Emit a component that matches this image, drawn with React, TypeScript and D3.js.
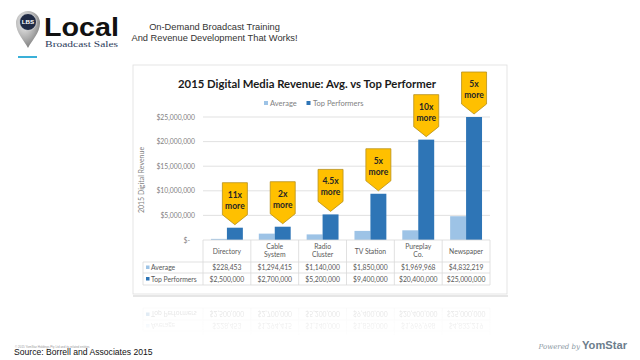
import React from "react";
import * as d3 from "d3";

const categories = ["Directory", "Cable System", "Radio Cluster", "TV Station", "Pureplay Co.", "Newspaper"];
const categoryLines = [["Directory"], ["Cable", "System"], ["Radio", "Cluster"], ["TV Station"], ["Pureplay", "Co."], ["Newspaper"]];
const averageValues = [228453, 1294415, 1140000, 1850000, 1969968, 4832219];
const topValues = [2500000, 2700000, 5200000, 9400000, 20400000, 25000000];
const multipliers = ["11x", "2x", "4.5x", "5x", "10x", "5x"];
const yTicks = [0, 5000000, 10000000, 15000000, 20000000, 25000000];
const seriesNames = ["Average", "Top Performers"];

const AVG_COLOR = "#9dc3e6";
const TOP_COLOR = "#2e75b6";
const GRID = "#d9d9d9";
const FONT = "Lato, 'Open Sans', sans-serif";

const money = (v: number) => (v === 0 ? "$-" : "$" + d3.format(",")(v));

const x0 = d3.scaleBand<string>().domain(categories).range([203, 490]).padding(0);
const x1 = d3.scaleBand<string>().domain(seriesNames).range([0, x0.bandwidth()]).paddingInner(0).paddingOuter(0.5);
const y = d3.scaleLinear().domain([0, 25000000]).range([240, 117]);
const rowTop = 262, rowMid = 273, rowBot = 285, tableLeft = 143;

function Table({ withCategories }: { withCategories: boolean }) {
  return (
    <g>
      <line x1={203} x2={490} y1={240} y2={240} stroke={GRID} strokeWidth={0.8} />
      {[rowTop, rowMid, rowBot].map((yy) => (
        <line key={yy} x1={tableLeft} x2={490} y1={yy} y2={yy} stroke={GRID} strokeWidth={0.8} />
      ))}
      <line x1={tableLeft} x2={tableLeft} y1={rowTop} y2={rowBot} stroke={GRID} strokeWidth={0.8} />
      {categories.map((c) => (
        <line key={c} x1={x0(c) as number} x2={x0(c) as number} y1={withCategories ? 240 : rowTop - 4} y2={rowBot} stroke={GRID} strokeWidth={0.8} />
      ))}
      <line x1={490} x2={490} y1={withCategories ? 240 : rowTop - 4} y2={rowBot} stroke={GRID} strokeWidth={0.8} />
      {categories.map((c, i) => {
        const cx = (x0(c) as number) + x0.bandwidth() / 2;
        const lines = categoryLines[i];
        return (
          <g key={c}>
            {withCategories &&
              lines.map((l, j) => (
                <text key={l} x={cx} y={lines.length === 1 ? 253.5 : 248.5 + j * 8} textAnchor="middle" fontSize={6.8} fill="#595959" fontFamily={FONT}>
                  {l}
                </text>
              ))}
            <text x={cx} y={270.3} textAnchor="middle" fontSize={6.8} fill="#595959" fontFamily={FONT}>{money(averageValues[i])}</text>
            <text x={cx} y={281.8} textAnchor="middle" fontSize={6.8} fill="#595959" fontFamily={FONT}>{money(topValues[i])}</text>
          </g>
        );
      })}
      <rect x={146} y={265.5} width={3.5} height={3.5} fill={AVG_COLOR} />
      <text x={151} y={270.3} fontSize={6.8} fill="#595959" fontFamily={FONT}>Average</text>
      <rect x={146} y={277} width={3.5} height={3.5} fill={TOP_COLOR} />
      <text x={151} y={281.8} fontSize={6.8} fill="#595959" fontFamily={FONT}>Top Performers</text>
    </g>
  );
}

function ChartBody() {
  return (
    <g>
      {yTicks.map((t) => (
        <g key={t}>
          {t > 0 && <line x1={203} x2={490} y1={y(t)} y2={y(t)} stroke={GRID} strokeWidth={0.8} />}
          <text x={t === 0 ? 190 : 195} y={y(t) + 2.5} textAnchor="end" fontSize={6.8} fill="#7f7f7f" fontFamily={FONT}>
            {money(t)}
          </text>
        </g>
      ))}
      {categories.map((c, i) => (
        <g key={c}>
          <rect x={(x0(c) as number) + (x1("Average") as number)} y={y(averageValues[i])} width={x1.bandwidth()} height={240 - y(averageValues[i])} fill={AVG_COLOR} />
          <rect x={(x0(c) as number) + (x1("Top Performers") as number)} y={y(topValues[i])} width={x1.bandwidth()} height={240 - y(topValues[i])} fill={TOP_COLOR} />
        </g>
      ))}
      <Table withCategories={true} />
      {categories.map((c, i) => {
        const cx = (x0(c) as number) + (x1("Top Performers") as number) + x1.bandwidth() / 2;
        const tip = y(topValues[i]) - 3;
        const top = tip - 42;
        const hw = 12.5;
        const sh = top + 32;
        const d = `M${cx - hw},${top} L${cx + hw},${top} L${cx + hw},${sh} L${cx},${tip} L${cx - hw},${sh} Z`;
        return (
          <g key={c}>
            <path d={d} fill="#ffc000" stroke="#b8901a" strokeWidth={0.8} />
            <text x={cx} y={top + 15} textAnchor="middle" fontSize={8.5} fontWeight="bold" fill="#262626" fontFamily={FONT}>{multipliers[i]}</text>
            <text x={cx} y={top + 26} textAnchor="middle" fontSize={8.5} fontWeight="bold" fill="#262626" fontFamily={FONT}>more</text>
          </g>
        );
      })}
    </g>
  );
}

export default function App() {
  return (
    <svg width={640} height={360} style={{ position: "absolute", left: 0, top: 0, background: "#fff" }} fontFamily={FONT}>
      <defs>
        <radialGradient id="pin" cx="0.35" cy="0.3" r="0.8">
          <stop offset="0" stopColor="#f4f4f4" />
          <stop offset="0.6" stopColor="#a9a9a9" />
          <stop offset="1" stopColor="#6f6f6f" />
        </radialGradient>
        <linearGradient id="fade" x1="0" y1="0" x2="0" y2="1">
          <stop offset="0" stopColor="#fff" stopOpacity={0.22} />
          <stop offset="1" stopColor="#fff" stopOpacity={0.04} />
        </linearGradient>
        <mask id="refMask" maskUnits="userSpaceOnUse" x={0} y={297} width={640} height={40}>
          <rect x={0} y={297} width={640} height={40} fill="url(#fade)" />
        </mask>
      </defs>
      <rect x={0} y={0} width={640} height={360} fill="#fff" />

      {/* logo */}
      <path d="M28,48 C24,40 16,33 16,23 A12,12 0 1 1 40,23 C40,33 32,40 28,48 Z" fill="url(#pin)" />
      <circle cx={28} cy={22} r={8.5} fill="#1f2a44" stroke="#dcdcdc" strokeWidth={0.8} />
      <text x={28} y={24.3} textAnchor="middle" fontSize={6.2} fontWeight="bold" fill="#fff" fontFamily="'Liberation Sans', Arial, sans-serif">LBS</text>
      <text x={44} y={35.5} fontSize={26} fontWeight="bold" fill="#111" fontFamily="'Liberation Sans', Arial, sans-serif" textLength={75} lengthAdjust="spacingAndGlyphs">Local</text>
      <text x={45} y={47} fontSize={8.8} fill="#2b3a5a" fontFamily="'Liberation Serif', 'DejaVu Serif', serif" textLength={73} lengthAdjust="spacingAndGlyphs">Broadcast Sales</text>
      <rect x={18} y={56} width={19} height={2} fill="#3ab0d8" />

      <text x={214.5} y={29.5} textAnchor="middle" fontSize={9.3} fill="#333" fontFamily="'Liberation Sans', Arial, sans-serif">On-Demand Broadcast Training</text>
      <text x={214.5} y={40.5} textAnchor="middle" fontSize={9.3} fill="#333" fontFamily="'Liberation Sans', Arial, sans-serif">And Revenue Development That Works!</text>

      {/* panel */}
      <rect x={133} y={295} width={375} height={2} fill="#e6e6e6" />
      <rect x={133} y={65} width={374} height={229} fill="#fff" stroke="#dedede" strokeWidth={0.8} />
      <text x={307} y={87.5} textAnchor="middle" fontSize={11.8} fontWeight="bold" fill="#1a1a1a" fontFamily={FONT} textLength={258} lengthAdjust="spacingAndGlyphs">
        2015 Digital Media Revenue: Avg. vs Top Performer
      </text>
      <rect x={264} y={101} width={4} height={4} fill={AVG_COLOR} />
      <text x={270} y={106} fontSize={7.5} fill="#7f7f7f" fontFamily={FONT}>Average</text>
      <rect x={306.5} y={101} width={4} height={4} fill={TOP_COLOR} />
      <text x={313} y={106} fontSize={7.5} fill="#7f7f7f" fontFamily={FONT}>Top Performers</text>
      <text transform="translate(143.5,180) rotate(-90)" textAnchor="middle" fontSize={7} fill="#7f7f7f" fontFamily={FONT}>2015 Digital Revenue</text>
      <ChartBody />

      {/* reflection of the table */}
      <g mask="url(#refMask)">
        <g transform="translate(0,593) scale(1,-1)">
          <Table withCategories={false} />
        </g>
      </g>

      {/* footer */}
      <text x={15} y={347.5} fontSize={3} fill="#9a9a9a" fontFamily="'Liberation Sans', Arial, sans-serif">© 2015 YomStar Holdings Pty Ltd and its related entities</text>
      <text x={14} y={355} fontSize={8.6} fill="#111" fontFamily="'Liberation Sans', Arial, sans-serif">Source: Borrell and Associates 2015</text>
      <text x={580} y={348.5} textAnchor="end" fontSize={7} fontStyle="italic" fill="#8a97a3" fontFamily="'DejaVu Serif', serif">Powered by</text>
      <text x={582} y={349} fontSize={10} fontWeight="bold" fill="#6c7d8c" fontFamily="'Liberation Sans', Arial, sans-serif" textLength={45} lengthAdjust="spacingAndGlyphs">YomStar</text>
    </svg>
  );
}
